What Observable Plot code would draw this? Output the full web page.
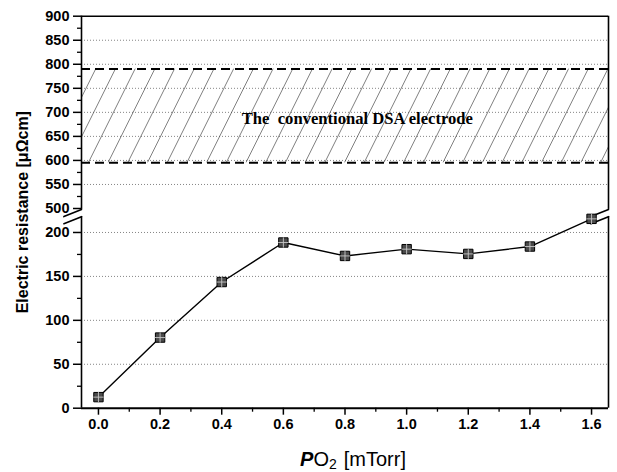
<!DOCTYPE html>
<html>
<head>
<meta charset="utf-8">
<script src="https://cdn.jsdelivr.net/npm/d3@7"></script>
<script src="https://cdn.jsdelivr.net/npm/@observablehq/plot@0.6"></script>
<style>
  html, body { margin: 0; padding: 0; background: #fff; overflow: hidden; }
  #wrap { position: relative; width: 617px; height: 472px; }
  #xlabel { position: absolute; left: 203px; top: 449px; width: 300px; text-align: center;
            font: 20px/20px "Liberation Sans", Arial, sans-serif; color: #000; white-space: nowrap; }
  #xlabel sub { font-size: 14px; position: relative; top: 3px; vertical-align: baseline; line-height: 0; margin-right: 7px; }
</style>
</head>
<body>
<div id="wrap"></div>
<script>
// ---- data ----
const pressure   = [0, 0.2, 0.4, 0.6, 0.8, 1.0, 1.2, 1.4, 1.6];          // PO2 [mTorr]
const resistance = [12.6, 80.4, 143.6, 188.6, 173.3, 181.0, 175.6, 184.0, 215.5]; // μΩcm
const dsaRange   = [595, 790];                                              // conventional DSA band
const dsaLabel   = "The  conventional DSA electrode";
const yLabel     = "Electric resistance [μΩcm]";

const xTicks      = [0, 0.2, 0.4, 0.6, 0.8, 1.0, 1.2, 1.4, 1.6];
const xMinorTicks = [0.1, 0.3, 0.5, 0.7, 0.9, 1.1, 1.3, 1.5];
const yTicks      = [0, 50, 100, 150, 200, 500, 550, 600, 650, 700, 750, 800, 850, 900];
const yMinorTicks = [25, 75, 125, 175, 525, 575, 625, 675, 725, 775, 825, 875];
const gridLines   = [50, 100, 150, 200, 550, 600, 650, 700, 750, 800, 850];

const xDomain     = [-0.055, 1.655];
const yPieces     = [0, 221.6, 489.6, 900];   // broken axis: 0–221.6 | 489.6–900
const yPieceSpan  = [0, 194.7, 194.7, 392];   // share of the axis height given to each piece
const yBreaks     = [218, 498];                // where the axis line is cut
const axisSegments = [[0, yBreaks[0]], [yBreaks[1], 900]];

const broken = d3.scaleLinear().domain(yPieces).range(yPieceSpan);
const rows = pressure.map((p, i) => ({p, r: resistance[i]}));

// axis ticks are placed in the broken (transformed) space, labelled with the original values
const tickLabel = new Map(yTicks.map(t => [broken(t), String(t)]));
const yTickPos  = yTicks.map(t => broken(t));
const yMinorPos = yMinorTicks.map(t => broken(t));

const slash = {draw(context, l) { context.moveTo(0, l / 2); context.lineTo(0, -l / 2); }};

const plot = Plot.plot({
  width: 617,
  height: 440,
  marginLeft: 81,
  marginRight: 9,
  marginTop: 15.7,
  marginBottom: 32.3,
  x: {domain: xDomain},
  y: {domain: [yPieceSpan[0], yPieceSpan[yPieceSpan.length - 1]], transform: v => broken(v)},
  style: {fontFamily: "'Liberation Sans', Arial, sans-serif", fontSize: "14.5px", fontWeight: "bold", background: "#fff", color: "#000", overflow: "visible"},
  marks: [
    Plot.ruleY(gridLines, {stroke: "#777", strokeWidth: 0.9, strokeDasharray: "1,2"}),
    Plot.rect([dsaRange], {x1: () => xDomain[0], x2: () => xDomain[1], y1: d => d[0], y2: d => d[1], fill: "url(#hatch)"}),
    Plot.ruleY(dsaRange, {stroke: "#000", strokeWidth: 2, strokeDasharray: "9,5"}),
    Plot.text([dsaLabel], {x: () => 0.84, y: () => 687, text: d => d,
      fontFamily: "'Liberation Serif', 'Times New Roman', serif", fontSize: 16.6, fontWeight: "bold"}),
    // frame
    Plot.ruleY([0], {stroke: "#000", strokeWidth: 2}),
    Plot.ruleY([900], {stroke: "#000", strokeWidth: 1.5}),
    Plot.ruleX(axisSegments, {x: () => xDomain[0], y1: d => d[0], y2: d => d[1], stroke: "#000", strokeWidth: 1.6}),
    Plot.ruleX(axisSegments, {x: () => xDomain[1], y1: d => d[0], y2: d => d[1], stroke: "#000", strokeWidth: 1.6}),
    // axis break marks
    Plot.vector(yBreaks, {x: () => xDomain[0], y: d => d, length: 19, rotate: 68, anchor: "middle", shape: slash, stroke: "#000", strokeWidth: 1.6}),
    Plot.vector(yBreaks, {x: () => xDomain[1], y: d => d, length: 19, rotate: 68, anchor: "middle", shape: slash, stroke: "#000", strokeWidth: 1.6}),
    // axes
    Plot.axisY({ticks: yTickPos, tickSize: 8, tickPadding: 4, tickFormat: v => tickLabel.get(v), label: null, strokeWidth: 1.5}),
    Plot.axisY({ticks: yMinorPos, tickSize: 4, tickFormat: () => "", label: null, strokeWidth: 1.3}),
    Plot.axisX({ticks: xTicks, tickSize: 7, tickPadding: 4, tickFormat: d3.format(".1f"), label: null, strokeWidth: 1.5}),
    Plot.axisX({ticks: xMinorTicks, tickSize: 4, tickFormat: () => "", label: null, strokeWidth: 1.3}),
    Plot.text([yLabel], {frameAnchor: "left", textAnchor: "middle", dx: -59, rotate: -90, text: d => d, fontSize: 16, fontWeight: "bold"}),
    // series
    Plot.line(rows, {x: "p", y: "r", stroke: "#000", strokeWidth: 1.4}),
    Plot.dot(rows, {x: "p", y: "r", symbol: "square", r: 5.3, fill: "#4a4a4a", stroke: "#000", strokeWidth: 1}),
    Plot.dot(rows, {x: "p", y: "r", symbol: "plus", r: 3.4, stroke: "#c8c8c8", strokeWidth: 0.9})
  ]
});

document.getElementById("wrap").appendChild(plot);

// hatch pattern used by the DSA band (phase set from the band's bottom edge)
const svg = d3.select(plot);
const yBottomPx = (440 - 32.3) - broken(dsaRange[0]);
const skew = -26.5;
const tx = 88 - Math.tan(skew * Math.PI / 180) * yBottomPx;
const defs = svg.insert("defs", ":first-child");
const pat = defs.append("pattern")
  .attr("id", "hatch")
  .attr("patternUnits", "userSpaceOnUse")
  .attr("width", 19.7).attr("height", 200)
  .attr("patternTransform", `translate(${tx},0) skewX(${skew})`);
pat.append("line").attr("x1", 0.5).attr("x2", 0.5).attr("y1", -10).attr("y2", 210)
  .attr("stroke", "#444").attr("stroke-width", 0.65);

// x-axis label (with subscript) below the svg
const lab = document.createElement("div");
lab.id = "xlabel";
lab.innerHTML = "<b><i>P</i></b>O<sub>2</sub>[mTorr]";
document.getElementById("wrap").appendChild(lab);
</script>
</body>
</html>
